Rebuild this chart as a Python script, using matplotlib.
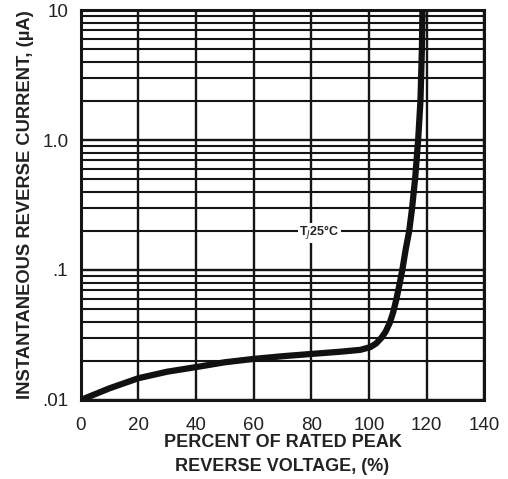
import numpy as np
import matplotlib.pyplot as plt
from matplotlib.ticker import FixedLocator, LogLocator, NullFormatter

# curve: percent of rated peak reverse voltage vs current (uA)
pct = [0, 10, 20, 30, 40, 50, 60, 70, 80, 90, 97, 100.5, 102.5, 104.3, 105.8,
       107.2, 108.4, 109.5, 110.6, 111.6, 112.8, 114.0, 115.0, 116.1, 117.1,
       117.9, 118.4, 118.6]
current = [0.0100, 0.0123, 0.0147, 0.0165, 0.0179, 0.0195, 0.0207, 0.0217,
           0.0226, 0.0235, 0.0243, 0.0255, 0.0272, 0.030, 0.0335,
           0.039, 0.047, 0.059, 0.077, 0.100, 0.145, 0.20, 0.30, 0.52, 1.0,
           2.0, 5.0, 10.0]

x_ticks = [0, 20, 40, 60, 80, 100, 120, 140]
y_ticks = [0.01, 0.1, 1.0, 10]
y_tick_labels = [".01", ".1", "1.0", "10"]

plt.rcParams['font.family'] = ['Liberation Sans', 'DejaVu Sans']

fig = plt.figure(figsize=(5.08, 4.79), dpi=100)
ax = fig.add_axes([0.159, 0.165, 0.794, 0.814])

ax.set_yscale("log")
ax.set_xlim(0, 140)
ax.set_ylim(0.01, 10)

ink = "#151515"
txt = "#222222"

## grid: vertical every 20 %, horizontal at every log minor step
ax.xaxis.set_major_locator(FixedLocator(x_ticks))
ax.yaxis.set_major_locator(FixedLocator(y_ticks))
ax.yaxis.set_minor_locator(LogLocator(base=10, subs=np.arange(2, 10)))
ax.yaxis.set_minor_formatter(NullFormatter())
ax.set_yticklabels(y_tick_labels)
ax.grid(True, which="major", axis="both", color=ink, lw=1.7)
ax.grid(True, which="minor", axis="y", color=ink, lw=1.5)
ax.tick_params(which="both", length=0, labelsize=13.5, colors=txt)
ax.tick_params(axis="x", pad=12)
ax.tick_params(axis="y", pad=9)
for s in ax.spines.values():
    s.set_linewidth(2.2)
    s.set_color(ink)

ax.plot(pct, current, color="#111111", lw=4.5, solid_capstyle="round",
        solid_joinstyle="round", zorder=5)

ax.text(82.8, 0.193, "T$_J$25°C", fontsize=9, fontweight="bold", ha="center",
        va="center", color=txt,
        bbox=dict(facecolor="white", edgecolor="none", pad=1.0), zorder=4)

ax.set_xlabel("PERCENT OF RATED PEAK\nREVERSE VOLTAGE, (%)", fontsize=13,
              fontweight="bold", color=txt, linespacing=1.55, labelpad=0)
ax.set_ylabel("INSTANTANEOUS REVERSE CURRENT, (µA)", fontsize=13.2,
              fontweight="bold", color=txt, labelpad=6)

fig.savefig("out.png", dpi=100)
